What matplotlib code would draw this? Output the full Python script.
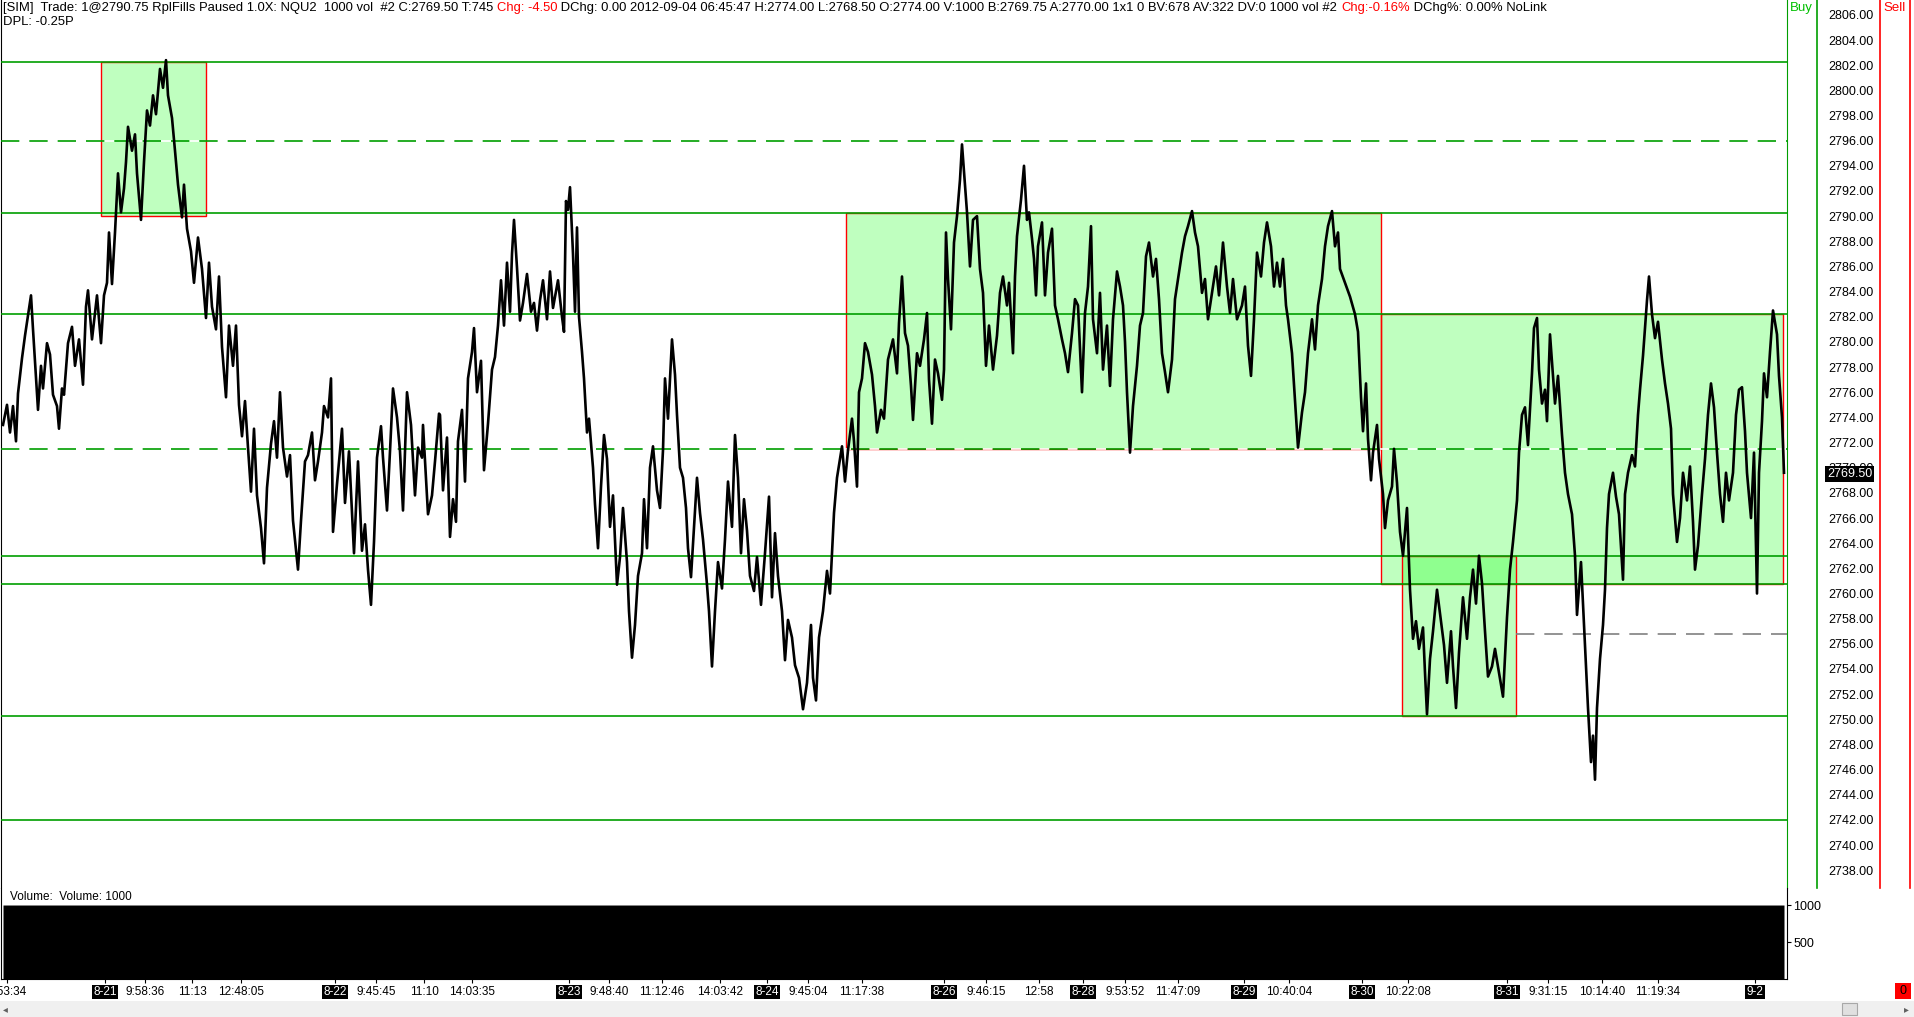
import numpy as np
import matplotlib
matplotlib.use('Agg')
import matplotlib.pyplot as plt
from matplotlib.patches import Rectangle
from matplotlib.lines import Line2D

plt.rcParams['font.family'] = ['Liberation Sans', 'DejaVu Sans']

W, H = 1914, 1017

# price path (bar index, price)
bars = [3, 7, 10, 13, 16, 18, 22, 25, 28, 31, 33, 38, 41, 43, 47, 50, 53, 57, 59, 62,
        64, 68, 72, 75, 79, 83, 86, 88, 92, 97, 101, 104, 107, 109, 112, 115, 118, 121, 124, 126,
        128, 132, 135, 137, 141, 144, 147, 150, 153, 156, 160, 163, 166, 168, 172, 175, 178, 182, 184, 187,
        191, 194, 198, 202, 206, 209, 212, 216, 219, 222, 226, 229, 233, 236, 239, 242, 245, 248, 251, 254,
        257, 261, 264, 267, 271, 274, 277, 280, 283, 287, 290, 293, 298, 301, 305, 308, 312, 315, 318, 322,
        324, 328, 331, 333, 337, 342, 345, 349, 354, 358, 362, 365, 368, 371, 374, 377, 381, 383, 387, 390,
        393, 397, 400, 403, 407, 411, 415, 418, 422, 423, 428, 432, 435, 439,
        440, 443, 447, 450, 453, 456, 458, 462, 465, 468, 472, 474, 477, 481, 484, 488, 492, 495, 498, 501,
        504, 507, 510, 512, 514, 517, 520, 523, 527, 531, 534, 537, 540, 543, 547, 550, 553, 558, 562, 564,
        566, 568, 570, 573, 575, 577, 579, 582, 584, 587, 589, 593, 595, 598, 601, 604, 607, 610, 613, 617,
        620, 623, 627, 629, 632, 635, 638, 642, 644, 647, 650, 653, 657, 660, 663, 665, 668, 672, 675, 677,
        680, 683, 686, 688, 691, 694, 697, 700, 703, 707, 709, 712, 715, 718, 722, 725, 728, 732, 735, 738,
        741, 744, 747, 750, 754, 757, 761, 765, 769, 772, 775, 778, 782, 785, 788, 792, 795, 799, 803, 807,
        811, 813, 816, 819, 823, 827, 830, 834, 837, 842, 845, 848, 852, 854, 857, 859, 862, 865, 868, 872,
        875, 877, 881, 884,
        888, 893, 897, 899, 902, 905, 908, 911, 913, 917, 920, 924, 927, 929, 932, 935, 938, 942, 944, 946,
        948, 951, 954, 957, 960, 962, 965, 967, 970, 973, 977, 980, 983, 986, 989, 993, 997, 1000, 1003, 1007,
        1009, 1013, 1015, 1017, 1021, 1024, 1027, 1029, 1032, 1034, 1036, 1038, 1042, 1045, 1048, 1052, 1055, 1058, 1062, 1065,
        1068, 1072, 1075, 1078, 1082, 1085, 1088, 1091, 1093, 1097, 1100, 1103, 1107, 1110, 1113, 1117, 1120, 1123, 1125, 1127,
        1130, 1133, 1137, 1140, 1143, 1146, 1149, 1153, 1156, 1159, 1162, 1165, 1168, 1172, 1175, 1178, 1182, 1185, 1188, 1192,
        1195, 1198, 1202, 1205, 1208, 1212, 1216, 1219, 1223, 1227, 1230, 1233, 1237, 1242, 1245, 1248, 1251, 1254, 1257, 1261,
        1264, 1267, 1271, 1274, 1277, 1280, 1283, 1286, 1288, 1292, 1295, 1298, 1302, 1305, 1308, 1312, 1315, 1318, 1322, 1325,
        1328, 1332, 1335, 1338,
        1340, 1345, 1350, 1355, 1358, 1361, 1363, 1366, 1368, 1371, 1373, 1377, 1379, 1383, 1385, 1388, 1392, 1394, 1397, 1400,
        1403, 1407, 1410, 1413, 1416, 1419, 1423, 1425, 1427, 1430, 1433, 1437, 1441, 1444, 1447, 1451, 1453, 1456, 1459, 1463,
        1467, 1470, 1473, 1476, 1479, 1482, 1485, 1488, 1492, 1495, 1499, 1503, 1507, 1510, 1513, 1517, 1519, 1522, 1525, 1528,
        1532, 1534, 1537, 1539, 1542, 1545, 1547, 1550, 1553, 1555, 1558, 1562, 1565, 1568, 1572, 1575, 1577, 1581, 1583, 1586,
        1588, 1591, 1593, 1595, 1597, 1600, 1603, 1605, 1607, 1609, 1613, 1616, 1619, 1623, 1625, 1628, 1632, 1635, 1638, 1640,
        1643, 1647, 1649, 1652, 1655, 1658, 1662, 1665, 1668, 1671, 1673, 1677, 1680, 1683, 1687, 1690, 1693, 1695, 1698, 1702,
        1705, 1708, 1711, 1714, 1717, 1720, 1723, 1726, 1729, 1733, 1736, 1739, 1742, 1745, 1747, 1751, 1754, 1757, 1759, 1762,
        1764, 1767, 1770, 1773, 1777, 1779, 1782, 1784]

prices = [2773.4, 2775.0, 2772.8, 2774.9, 2772.1, 2775.9, 2778.7, 2780.5, 2782.1, 2783.7, 2781.0, 2774.6, 2778.1, 2776.3, 2779.9, 2779.0, 2775.8, 2774.9, 2773.1, 2776.3,
          2775.8, 2779.9, 2781.2, 2778.1, 2780.2, 2776.6, 2782.8, 2784.1, 2780.2, 2783.7, 2779.9, 2783.7, 2784.7, 2788.7, 2784.6, 2788.7, 2793.4, 2790.3, 2792.2, 2794.3,
          2797.1, 2795.2, 2796.5, 2793.4, 2789.7, 2794.3, 2798.4, 2797.2, 2799.6, 2798.1, 2801.7, 2800.2, 2802.4, 2799.6, 2797.8, 2795.2, 2792.5, 2789.9, 2792.5, 2789.0,
          2787.2, 2784.7, 2788.3, 2785.8, 2781.9, 2786.3, 2782.8, 2781.0, 2785.2, 2779.6, 2775.6, 2781.3, 2778.1, 2781.3, 2775.0, 2772.5, 2775.3, 2771.6, 2768.1, 2773.1,
          2767.8, 2765.2, 2762.4, 2768.4, 2771.9, 2773.7, 2770.8, 2776.0, 2771.6, 2769.3, 2771.0, 2765.8, 2761.9, 2765.8, 2770.5, 2771.0, 2772.8, 2769.0, 2770.5, 2772.8,
          2774.9, 2774.0, 2777.1, 2764.9, 2768.7, 2773.1, 2767.2, 2771.3, 2763.2, 2770.5, 2763.4, 2765.5, 2761.9, 2759.1, 2764.1, 2770.8, 2773.3, 2770.8, 2766.6, 2771.3,
          2776.3, 2774.0, 2771.3, 2766.6, 2776.0, 2773.4, 2767.8, 2771.6, 2770.8, 2773.4, 2766.3, 2767.8, 2770.5, 2774.3,
          2774.2, 2768.2, 2772.4, 2764.5, 2767.5, 2765.7, 2772.1, 2774.6, 2768.9, 2777.1, 2779.2, 2781.1, 2776.0, 2778.5, 2769.8, 2773.5, 2777.8, 2778.8, 2781.3, 2784.9,
          2781.3, 2786.3, 2782.4, 2787.0, 2789.7, 2785.9, 2781.7, 2783.1, 2785.4, 2782.4, 2783.1, 2780.9, 2783.3, 2784.9, 2781.8, 2785.6, 2782.7, 2784.9, 2782.0, 2780.8,
          2791.2, 2790.5, 2792.3, 2787.0, 2782.4, 2789.1, 2782.0, 2779.2, 2777.1, 2772.8, 2773.9, 2770.0, 2767.1, 2763.6, 2768.5, 2772.6, 2770.7, 2765.3, 2767.8, 2760.7,
          2762.9, 2766.8, 2762.5, 2758.6, 2754.9, 2757.5, 2761.4, 2763.2, 2767.5, 2763.6, 2770.0, 2771.7, 2768.2, 2766.8, 2771.4, 2777.1, 2773.9, 2780.2, 2777.4, 2774.2,
          2770.0, 2769.2, 2766.8, 2763.6, 2761.3, 2765.3, 2769.2, 2766.4, 2764.3, 2760.7, 2758.6, 2754.2, 2758.6, 2762.5, 2760.4, 2764.3, 2768.9, 2765.3, 2772.6, 2769.2,
          2763.2, 2767.5, 2765.0, 2761.4, 2760.2, 2762.9, 2759.1, 2763.2, 2767.7, 2759.7, 2764.8, 2761.4, 2758.6, 2754.7, 2757.9, 2756.5, 2754.3, 2753.3, 2750.8, 2752.9,
          2757.5, 2753.3, 2751.5, 2756.5, 2758.6, 2761.8, 2760.0, 2766.4, 2769.2, 2771.7, 2768.9, 2771.4, 2773.9, 2772.1, 2768.5, 2776.0, 2777.1, 2779.9, 2779.2, 2777.4,
          2774.9, 2772.8, 2774.6, 2773.9,
          2778.6, 2780.2, 2777.5, 2781.5, 2785.2, 2780.7, 2779.7, 2776.5, 2773.8, 2779.1, 2778.1, 2780.2, 2782.3, 2777.0, 2773.5, 2778.6, 2777.5, 2775.4, 2777.8, 2788.7,
          2785.0, 2781.0, 2787.9, 2790.0, 2792.9, 2795.7, 2792.4, 2790.3, 2786.0, 2789.7, 2790.0, 2785.8, 2783.9, 2778.1, 2781.3, 2777.8, 2780.5, 2783.9, 2785.2, 2782.9,
          2784.7, 2779.1, 2785.2, 2788.4, 2791.3, 2794.0, 2789.7, 2790.3, 2788.2, 2786.6, 2783.7, 2787.6, 2789.5, 2783.7, 2787.1, 2789.0, 2782.9, 2781.8, 2780.2, 2779.1,
          2777.6, 2780.7, 2783.4, 2782.9, 2776.0, 2782.3, 2784.4, 2789.2, 2781.8, 2779.1, 2783.9, 2777.8, 2781.3, 2776.5, 2781.8, 2785.6, 2784.4, 2782.9, 2780.0, 2776.0,
          2771.2, 2774.9, 2778.1, 2781.3, 2782.3, 2786.8, 2787.9, 2785.2, 2786.6, 2783.4, 2779.1, 2777.6, 2776.0, 2778.6, 2783.4, 2785.0, 2787.1, 2788.4, 2789.2, 2790.4,
          2788.7, 2787.6, 2783.9, 2785.0, 2781.8, 2783.9, 2786.0, 2783.7, 2787.9, 2784.4, 2782.3, 2785.0, 2781.8, 2782.9, 2784.4, 2779.7, 2777.3, 2781.8, 2787.1, 2785.2,
          2787.9, 2789.5, 2787.6, 2784.4, 2786.3, 2784.4, 2786.6, 2782.9, 2781.8, 2779.1, 2775.4, 2771.6, 2774.4, 2776.0, 2779.1, 2781.8, 2779.4, 2782.9, 2785.0, 2787.6,
          2789.2, 2790.4, 2787.6, 2788.7,
          2785.8, 2784.7, 2783.6, 2782.2, 2780.8, 2775.6, 2772.9, 2776.7, 2772.3, 2769.0, 2771.2, 2773.4, 2770.7, 2767.9, 2765.2, 2767.4, 2768.5, 2771.5, 2768.8, 2764.9,
          2763.0, 2766.8, 2760.3, 2756.4, 2757.8, 2755.6, 2757.3, 2753.7, 2750.4, 2754.8, 2757.0, 2760.3, 2757.8, 2755.9, 2752.9, 2757.0, 2754.2, 2750.9, 2755.3, 2759.7,
          2756.4, 2759.7, 2761.9, 2759.2, 2763.0, 2760.8, 2757.0, 2753.4, 2754.2, 2755.6, 2753.7, 2751.8, 2758.1, 2761.9, 2764.1, 2767.4, 2771.2, 2774.2, 2774.8, 2771.8,
          2777.5, 2781.1, 2781.9, 2777.8, 2775.1, 2776.2, 2773.7, 2780.6, 2777.3, 2775.1, 2777.3, 2772.6, 2769.6, 2767.9, 2766.3, 2763.0, 2758.3, 2762.5, 2759.2, 2754.2,
          2750.9, 2746.6, 2748.7, 2745.2, 2750.9, 2754.8, 2757.5, 2760.3, 2765.2, 2767.9, 2769.6, 2767.7, 2766.3, 2761.1, 2767.9, 2769.6, 2771.0, 2770.1, 2774.2, 2776.2,
          2778.9, 2783.3, 2785.2, 2782.2, 2780.3, 2781.6, 2778.6, 2776.7, 2775.1, 2773.1, 2767.9, 2764.1, 2766.0, 2769.6, 2767.4, 2770.1, 2765.7, 2761.9, 2763.8, 2767.9,
          2770.7, 2774.2, 2776.7, 2774.8, 2771.2, 2767.9, 2765.7, 2769.6, 2767.4, 2769.6, 2774.2, 2776.2, 2776.4, 2772.9, 2769.6, 2766.0, 2771.2, 2760.0, 2769.6, 2773.7,
          2777.5, 2775.6, 2779.2, 2782.5, 2780.6, 2777.3, 2774.0, 2769.6]

volume = np.full(len(bars), 1000)

solid_levels = [2802.25, 2790.25, 2782.25, 2763.0, 2760.75, 2750.25, 2742.0]
dashed_levels = [2796.0, 2771.5]
gray_level, gray_from = 2756.75, 1516

zone_start = [101, 846, 1381, 1402]
zone_end = [206, 1381, 1783, 1516]
zone_low = [2790.0, 2771.5, 2760.75, 2750.25]
zone_high = [2802.25, 2790.25, 2782.25, 2763.0]

tick_pos = [7, 105, 145, 192, 241, 335, 376, 424, 472, 569, 609, 662, 720, 767, 808, 862,
            944, 986, 1039, 1083, 1125, 1178, 1244, 1289, 1362, 1408, 1507, 1548, 1602, 1658, 1755]
tick_lab = ['9:53:34', '8-21', '9:58:36', '11:13', '12:48:05', '8-22', '9:45:45', '11:10', '14:03:35',
            '8-23', '9:48:40', '11:12:46', '14:03:42', '8-24', '9:45:04', '11:17:38', '8-26', '9:46:15',
            '12:58', '8-28', '9:53:52', '11:47:09', '8-29', '10:40:04', '8-30', '10:22:08', '8-31',
            '9:31:15', '10:14:40', '11:19:34', '9-2']

last_price = 2769.50

GREEN = '#009e00'
RED = '#ff0000'


def fx(px):
    return px / W


def fy(py):
    return 1 - py / H


fig = plt.figure(figsize=(W / 100, H / 100), dpi=100)
fig.patch.set_facecolor('white')

ax = fig.add_axes([fx(1), fy(888), (1787 - 1) / W, 888 / H])
axv = fig.add_axes([fx(1), fy(979), (1787 - 1) / W, 91 / H], sharex=ax)

# zones
for x0, x1, lo, hi in zip(zone_start, zone_end, zone_low, zone_high):
    ax.add_patch(Rectangle((x0, lo), x1 - x0, hi - lo, facecolor=(0, 1, 0, 0.25),
                           edgecolor=RED, lw=1.0, zorder=1))

for lv in solid_levels:
    ax.axhline(lv, color=GREEN, lw=1.2, zorder=3)
for lv in dashed_levels:
    ax.axhline(lv, color=GREEN, lw=1.2, ls=(0, (11, 6)), gapcolor='white', zorder=3)
ax.plot([gray_from, 1787], [gray_level, gray_level], color='#808080', lw=1.2,
        ls=(0, (11, 6)), zorder=3)

ax.plot(bars, prices, color='black', lw=1.9, zorder=4)

ax.set_xlim(1, 1787)
ax.set_ylim(2736.59, 2807.18)
ax.set_yticks(np.arange(2738, 2807, 2))
ax.set_yticklabels([f'{v:.2f}' for v in np.arange(2738, 2807, 2)])
ax.yaxis.tick_right()
ax.tick_params(axis='y', length=0, pad=29.5, labelsize=9)
ax.tick_params(axis='x', bottom=False, labelbottom=False)
for s in ['top', 'bottom']:
    ax.spines[s].set_visible(False)
ax.spines['left'].set_color('black')
ax.spines['right'].set_color(GREEN)

ax.text(1827, last_price, f'{last_price:.2f}', color='white', fontsize=9, va='center', ha='left',
        transform=ax.transData, clip_on=False, zorder=6,
        bbox=dict(facecolor='black', edgecolor='none', pad=1.2))

# volume panel
axv.fill_between(bars, 0, volume, step='mid', color='black', lw=0)
axv.set_ylim(0, 1230)
axv.set_yticks([500, 1000])
axv.yaxis.tick_right()
axv.tick_params(axis='y', length=3, pad=1.5, labelsize=9)
axv.spines['top'].set_visible(False)
axv.set_xticks(tick_pos)
axv.set_xticklabels(tick_lab)
axv.tick_params(axis='x', length=3, pad=2, labelsize=8.5)
for t in axv.get_xticklabels():
    if '-' in t.get_text():
        t.set_color('white')
        t.set_bbox(dict(facecolor='black', edgecolor='none', pad=1.0))
fig.text(fx(10), fy(897), 'Volume:  Volume: 1000', fontsize=8.5, va='center')

# right-hand columns
for xp, c in [(1817, GREEN), (1880, RED), (1910, RED)]:
    fig.add_artist(Line2D([fx(xp), fx(xp)], [fy(0), fy(888)], color=c, lw=1.2))
fig.text(fx(1801), fy(8), 'Buy', color='#00c000', fontsize=9.5, ha='center', va='center')
fig.text(fx(1895), fy(8), 'Sell', color=RED, fontsize=9.5, ha='center', va='center')

fig.add_artist(Rectangle((fx(1895), fy(999)), 16 / W, 16 / H, transform=fig.transFigure,
                         facecolor=RED, edgecolor='none'))
fig.text(fx(1903), fy(991), '0', fontsize=9, ha='center', va='center')

# scrollbar
fig.add_artist(Rectangle((0, 0), 1, 16 / H, transform=fig.transFigure,
                         facecolor='#f0f0f0', edgecolor='none'))
fig.add_artist(Rectangle((fx(1842), fy(1015)), 15 / W, 12 / H, transform=fig.transFigure,
                         facecolor='#e0e0e0', edgecolor='#a8a8a8', lw=0.8))
fig.text(fx(5), fy(1009), '◂', fontsize=7, color='#606060', ha='center', va='center')
fig.text(fx(1906), fy(1009), '▸', fontsize=7, color='#606060', ha='center', va='center')

# header
renderer = fig.canvas.get_renderer()


def width_of(s, size):
    t = fig.text(0, 0, s + '|', fontsize=size)
    w = t.get_window_extent(renderer=renderer).width
    t.remove()
    t = fig.text(0, 0, '|', fontsize=size)
    w -= t.get_window_extent(renderer=renderer).width
    t.remove()
    return w


header = [("[SIM]  Trade: 1@2790.75 RplFills Paused 1.0X: NQU2  1000 vol  #2 C:2769.50 T:745 ", 'black'),
          ("Chg: -4.50", RED),
          (" DChg: 0.00 2012-09-04 06:45:47 H:2774.00 L:2768.50 O:2774.00 V:1000 B:2769.75 "
           "A:2770.00 1x1 0 BV:678 AV:322 DV:0 1000 vol #2 ", 'black'),
          ("Chg:-0.16%", RED),
          (" DChg%: 0.00% NoLink", 'black')]
hsize = 9.35
prefix = ''
for s, c in header:
    x0 = 3 + width_of(prefix, hsize) if prefix else 3
    fig.text(fx(x0), fy(8), s, color=c, fontsize=hsize, va='center', ha='left')
    prefix += s
fig.text(fx(3), fy(22), 'DPL: -0.25P', fontsize=hsize, va='center', ha='left')

fig.savefig('out.png', dpi=100)
